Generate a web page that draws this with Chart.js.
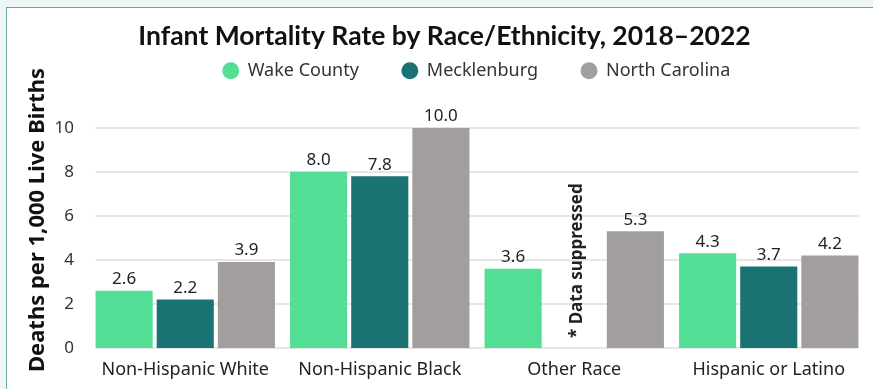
<!DOCTYPE html>
<html>
<head>
<meta charset="utf-8">
<script src="https://cdn.jsdelivr.net/npm/chart.js@4.4.1/dist/chart.umd.min.js"></script>
<style>
  html, body { margin: 0; padding: 0; background: #eef7f5; }
  #frame {
    position: absolute; left: 6px; top: 7px; width: 867px; height: 382px;
    background: #fff; border-left: 1px solid #6aa9a3; border-top: 1px solid #6aa9a3;
  }
  #frame canvas { display: block; }
</style>
</head>
<body>
<div id="frame"><canvas id="myChart" width="866" height="381"></canvas></div>
<script>
const groups = ['Non-Hispanic White', 'Non-Hispanic Black', 'Other Race', 'Hispanic or Latino'];
const wakeRates = [2.6, 8.0, 3.6, 4.3];
const mecklenburgRates = [2.2, 7.8, null, 3.7];
const ncRates = [3.9, 10.0, 5.3, 4.2];
const yTicks = [0, 2, 4, 6, 8, 10];

const font = "'Noto Sans', 'Open Sans', sans-serif";

// horizontal grid lines that run only from the first bar to the last one
const barGrid = {
  id: 'barGrid',
  beforeDatasetsDraw(chart) {
    const first = chart.getDatasetMeta(0).data[0];
    const lastMeta = chart.getDatasetMeta(chart.data.datasets.length - 1);
    const last = lastMeta.data[lastMeta.data.length - 1];
    const x0 = first.x - first.width / 2;
    const x1 = last.x + last.width / 2;
    const ctx = chart.ctx;
    ctx.save();
    ctx.strokeStyle = '#e6e6e6';
    ctx.lineWidth = 2;
    chart.scales.y.ticks.forEach(t => {
      const y = Math.round(chart.scales.y.getPixelForValue(t.value));
      ctx.beginPath();
      ctx.moveTo(x0, y);
      ctx.lineTo(x1, y);
      ctx.stroke();
    });
    ctx.restore();
  }
};

// values printed above each bar, plus the note for the missing Mecklenburg bar
const valueLabels = {
  id: 'valueLabels',
  afterDatasetsDraw(chart) {
    const ctx = chart.ctx;
    ctx.save();
    ctx.font = '17px ' + font;
    ctx.fillStyle = '#222';
    ctx.textAlign = 'center';
    ctx.textBaseline = 'bottom';
    chart.data.datasets.forEach((ds, i) => {
      chart.getDatasetMeta(i).data.forEach((bar, j) => {
        if (ds.data[j] == null) return;
        ctx.fillText(ds.data[j].toFixed(1), bar.x, bar.y - 3);
      });
    });
    const x = chart.scales.x.getPixelForValue(2);
    const y = chart.scales.y.getPixelForValue(0);
    ctx.translate(x + 3, y - 10);
    ctx.rotate(-Math.PI / 2);
    ctx.font = 'bold 17px ' + font;
    ctx.textAlign = 'left';
    ctx.textBaseline = 'middle';
    ctx.fillText('* Data suppressed', 0, 0);
    ctx.restore();
  }
};

// y axis title, placed by hand so it can sit a little above the plot's middle
const yTitle = {
  id: 'yTitle',
  afterDraw(chart) {
    const ctx = chart.ctx;
    ctx.save();
    ctx.translate(31, 212);
    ctx.rotate(-Math.PI / 2);
    ctx.font = 'bold 22px ' + font;
    ctx.fillStyle = '#111';
    ctx.textAlign = 'center';
    ctx.textBaseline = 'middle';
    ctx.fillText('Deaths per 1,000 Live Births', 0, 0);
    ctx.restore();
  }
};

// extra room under the legend, and nudge title and legend right of centre
const legendGap = {
  id: 'legendGap',
  beforeInit(chart) {
    const fit = chart.legend.fit;
    chart.legend.fit = function () {
      fit.bind(chart.legend)();
      this.height += 38;
    };
  },
  afterLayout(chart) {
    chart.legend.left += 40;
    chart.legend.right += 40;
    chart.titleBlock.left += 8;
    chart.titleBlock.right += 8;
  }
};

const data = {
  labels: groups,
  datasets: [{
    label: 'Wake County',
    backgroundColor: 'rgb(82, 222, 148)',
    data: wakeRates,
  }, {
    label: 'Mecklenburg',
    backgroundColor: 'rgb(27, 114, 114)',
    data: mecklenburgRates,
  }, {
    label: 'North Carolina',
    backgroundColor: 'rgb(162, 158, 157)',
    data: ncRates,
  }]
};

const config = {
  type: 'bar',
  data,
  plugins: [legendGap, barGrid, valueLabels, yTitle],
  options: {
    responsive: false,
    animation: false,
    categoryPercentage: 0.943,
    barPercentage: 0.934,
    layout: { padding: { left: 0, right: 7, top: 0, bottom: 0 } },
    plugins: {
      title: {
        display: true,
        text: 'Infant Mortality Rate by Race/Ethnicity, 2018–2022',
        color: '#111',
        font: { family: "Lato, sans-serif", size: 26.5, weight: 'bold' },
        padding: { top: 13, bottom: -34 }
      },
      legend: {
        labels: {
          usePointStyle: true,
          pointStyle: 'circle',
          boxWidth: 16,
          boxHeight: 12,
          padding: 43,
          color: '#333',
          font: { family: font, size: 18 }
        }
      },
      tooltip: { enabled: false }
    },
    scales: {
      x: {
        grid: { display: false },
        border: { display: false },
        ticks: { color: '#222', font: { family: font, size: 18 }, padding: 3 },
        afterFit(scale) { scale.height = 41; }
      },
      y: {
        min: 0,
        max: 10,
        afterBuildTicks(scale) { scale.ticks = yTicks.map(v => ({ value: v })); },
        grid: { display: false },
        border: { display: false },
        ticks: { color: '#333', font: { family: font, size: 17 }, padding: 6 },
        afterFit(scale) { scale.width = 81; }
      }
    }
  }
};

var myChart = new Chart(document.getElementById('myChart'), config);
</script>
</body>
</html>
